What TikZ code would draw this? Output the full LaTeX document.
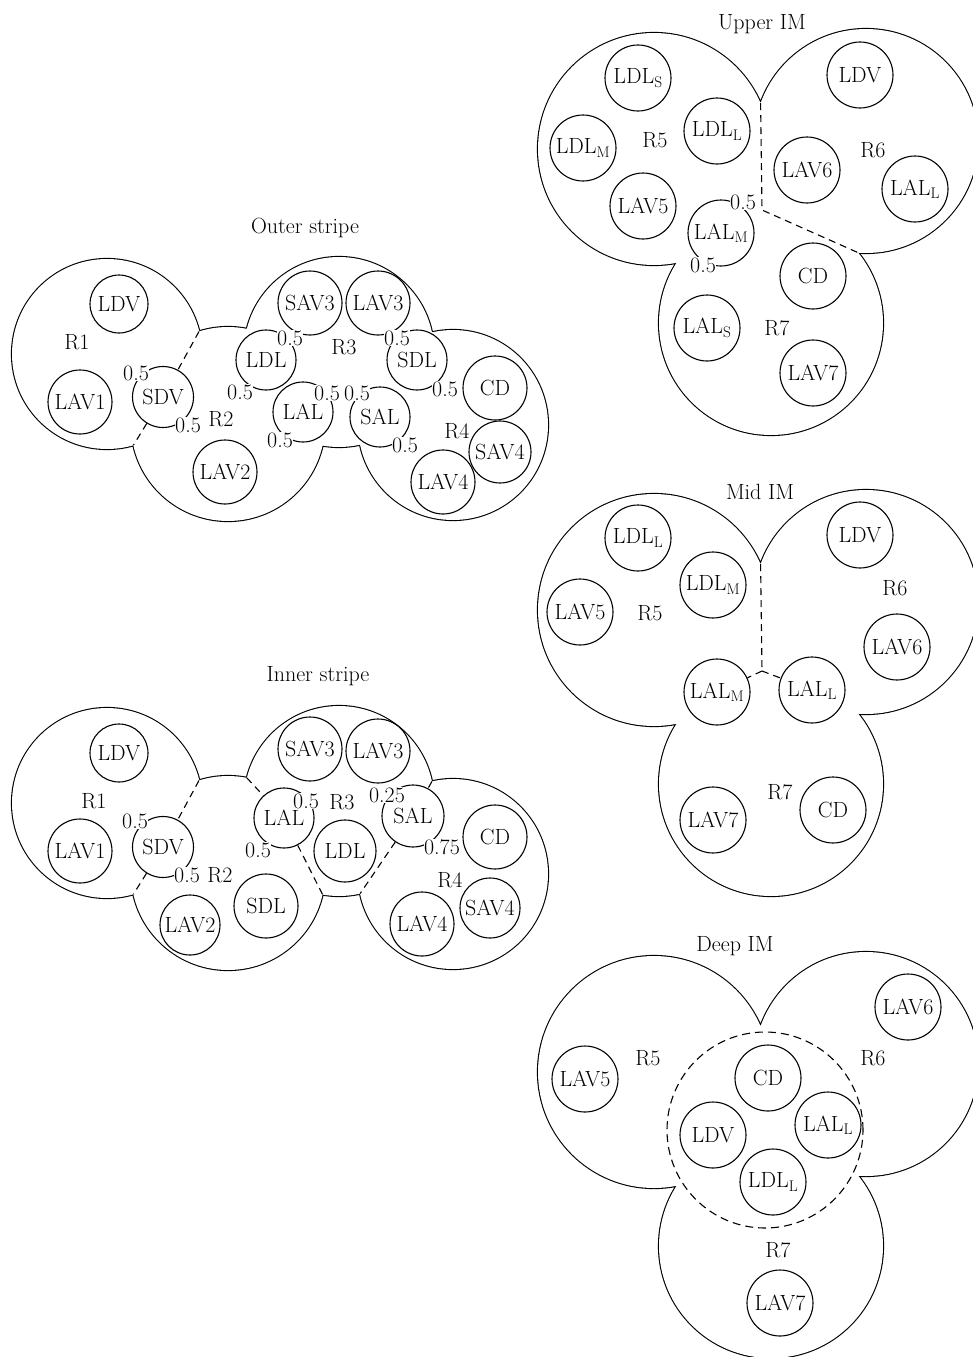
\documentclass[tikz,border=0pt]{standalone}
\usepackage{fontspec}
\newcommand\dfont{\fontsize{22}{26}\selectfont}
\begin{document}
\begin{tikzpicture}[x=1pt,y=-1pt,
  every node/.style={font=\dfont},
  sc/.style={circle,draw,line width=1.1pt,inner sep=0pt,minimum size=66pt},
  lbl/.style={fill=white,inner sep=0.6pt},
  txt/.style={inner sep=0pt},
  ttl/.style={inner sep=0pt,anchor=base},
  dsh/.style={line width=1.1pt,dash pattern=on 7pt off 5pt},
  bigo/.style={line width=2.2pt},
]
\useasboundingbox (0,0) rectangle (973,1357);
\clip (0,0) rectangle (973,1357);

% ================= Outer stripe =================
\draw[bigo] (107,354) circle[radius=95pt] (228,424) circle[radius=97pt]
            (339,352) circle[radius=95pt] (453,425) circle[radius=95pt];
\fill[white] (107,354) circle[radius=95pt] (228,424) circle[radius=97pt]
            (339,352) circle[radius=95pt] (453,425) circle[radius=95pt];
\node[ttl] (ttlo) at (305,233) {Outer stripe};
\node[txt] (or1) at (77,342) {R1};
\node[txt] (or2) at (221,419) {R2};
\node[txt] (or3) at (344,347) {R3};
\node[txt] (or4) at (457,431) {R4};
\node[sc,minimum size=58pt] (oldv) at (119,304) {LDV};
\node[sc,minimum size=64pt] (olav1) at (80,402) {LAV1};
\node[sc,minimum size=61pt] (osdv) at (163,397) {SDV};
\node[sc,minimum size=64pt] (olav2) at (225,472) {LAV2};
\node[sc,minimum size=64pt] (osav3) at (310,303) {SAV3};
\node[sc,minimum size=64pt] (olav3) at (378,303) {LAV3};
\node[sc,minimum size=60pt] (oldl) at (266,360) {LDL};
\node[sc,minimum size=60pt] (olal) at (303,412) {LAL};
\node[sc,minimum size=60pt] (osal) at (380,417) {SAL};
\node[sc,minimum size=60pt] (osdl) at (417,360) {SDL};
\node[sc,minimum size=64pt] (ocd) at (495,388) {CD};
\node[sc,minimum size=62pt] (osav4) at (500,452) {SAV4};
\node[sc,minimum size=64pt] (olav4) at (443,482) {LAV4};
\coordinate (oj12t) at (199,331.5);
\coordinate (oj12b) at (133.4,445.2);
\draw[dsh] (oj12t) -- (osdv);
\draw[dsh] (osdv) -- (oj12b);
\node[lbl] (oa1) at (136,373) {0.5};
\node[lbl] (oa2) at (188,425) {0.5};
\node[lbl] (oa3) at (290,338) {0.5};
\node[lbl] (oa4) at (240,392) {0.5};
\node[lbl] (oa5) at (327,393) {0.5};
\node[lbl] (oa6) at (280,440) {0.5};
\node[lbl] (oa7) at (357,393) {0.5};
\node[lbl] (oa8) at (405,445) {0.5};
\node[lbl] (oa9) at (397,338) {0.5};
\node[lbl] (oa10) at (445,389) {0.5};

% ================= Inner stripe =================
\draw[bigo] (107,803) circle[radius=95pt] (228,873) circle[radius=97pt]
            (339,801) circle[radius=95pt] (453,874) circle[radius=95pt];
\fill[white] (107,803) circle[radius=95pt] (228,873) circle[radius=97pt]
            (339,801) circle[radius=95pt] (453,874) circle[radius=95pt];
\node[ttl] (ttli) at (318,681) {Inner stripe};
\node[txt] (ir1) at (94,801) {R1};
\node[txt] (ir2) at (220,875) {R2};
\node[txt] (ir3) at (342,802) {R3};
\node[txt] (ir4) at (450,880) {R4};
\node[sc,minimum size=58pt] (ildv) at (119,753) {LDV};
\node[sc,minimum size=64pt] (ilav1) at (80,851) {LAV1};
\node[sc,minimum size=61pt] (isdv) at (163,847) {SDV};
\node[sc,minimum size=60pt] (ilav2) at (190,925) {LAV2};
\node[sc,minimum size=64pt] (isdl) at (266,906) {SDL};
\node[sc,minimum size=64pt] (isav3) at (310,749) {SAV3};
\node[sc,minimum size=64pt] (ilav3) at (378,751) {LAV3};
\node[sc,minimum size=60pt] (ilal) at (284,818) {LAL};
\node[sc,minimum size=62pt] (ildl) at (345,851) {LDL};
\node[sc,minimum size=62pt] (isal) at (413,816) {SAL};
\node[sc,minimum size=64pt] (icd) at (495,837) {CD};
\node[sc,minimum size=60pt] (isav4) at (490,908) {SAV4};
\node[sc,minimum size=64pt] (ilav4) at (422,924) {LAV4};
\coordinate (ij12t) at (199,780.5);
\coordinate (ij12b) at (133.4,894.2);
\coordinate (ij23t) at (246.8,777.8);
\coordinate (ij23b) at (322.6,894.6);
\coordinate (ij34t) at (431.9,781.4);
\coordinate (ij34b) at (360.1,893.6);
\draw[dsh] (ij12t) -- (isdv);
\draw[dsh] (isdv) -- (ij12b);
\draw[dsh] (ij23t) -- (ilal);
\draw[dsh] (ilal) -- (ij23b);
\draw[dsh] (ij34t) -- (isal);
\draw[dsh] (isal) -- (ij34b);
\node[lbl] (ia1) at (135,821) {0.5};
\node[lbl] (ia2) at (187,875) {0.5};
\node[lbl] (ia3) at (306,801) {0.5};
\node[lbl] (ia4) at (258,850) {0.5};
\node[lbl] (ia5) at (387,795) {0.25};
\node[lbl,inner sep=0pt] (ia6) at (442,847) {0.75};

% ================= Upper IM =================
\draw[bigo] (654,149) circle[radius=116pt] (866,141) circle[radius=112pt] (771,323) circle[radius=112pt];
\fill[white] (654,149) circle[radius=116pt] (866,141) circle[radius=112pt] (771,323) circle[radius=112pt];
\fill[white] (654,149) -- (866,141) -- (771,323) -- cycle;
\node[ttl] (ttlu) at (762,29) {Upper IM};
\node[txt] (ur5) at (655,140) {R5};
\node[txt] (ur6) at (873,150) {R6};
\node[txt] (ur7) at (777,328) {R7};
\node[sc] (uldls) at (638,78) {LDL\textsubscript{S}};
\node[sc] (uldll) at (717,131) {LDL\textsubscript{L}};
\node[sc] (uldlm) at (583,148) {LDL\textsubscript{M}};
\node[sc] (ulav5) at (643,206) {LAV5};
\node[sc] (ulalm) at (721,233) {LAL\textsubscript{M}};
\node[sc] (uldv) at (860,75) {LDV};
\node[sc] (ulav6) at (807,170) {LAV6};
\node[sc] (ulall) at (915,189) {LAL\textsubscript{L}};
\node[sc] (ucd) at (813,276) {CD};
\node[sc] (ulals) at (707,328) {LAL\textsubscript{S}};
\node[sc] (ulav7) at (813,373) {LAV7};
\coordinate (ucusp) at (760.6,103.2);
\coordinate (umid) at (762,210);
\coordinate (uj67) at (858.2,252.7);
\draw[dsh] (ucusp) -- (umid) -- (uj67);
\node[lbl] (ua1) at (743,202) {0.5};
\node[lbl] (ua2) at (703,265) {0.5};

% ================= Mid IM =================
\draw[bigo] (654,610) circle[radius=116pt] (866,602) circle[radius=112pt] (771,784) circle[radius=112pt];
\fill[white] (654,610) circle[radius=116pt] (866,602) circle[radius=112pt] (771,784) circle[radius=112pt];
\fill[white] (654,610) -- (866,602) -- (771,784) -- cycle;
\node[ttl] (ttlm) at (760,499) {Mid IM};
\node[txt] (mr5) at (650,613) {R5};
\node[txt] (mr6) at (895,588) {R6};
\node[txt] (mr7) at (780,792) {R7};
\node[sc] (mldll) at (638,538) {LDL\textsubscript{L}};
\node[sc] (mldlm) at (713,585) {LDL\textsubscript{M}};
\node[sc] (mlav5) at (580,612) {LAV5};
\node[sc] (mldv) at (860,535) {LDV};
\node[sc] (mlav6) at (897,647) {LAV6};
\node[sc] (mlalm) at (717,692) {LAL\textsubscript{M}};
\node[sc] (mlall) at (812,690) {LAL\textsubscript{L}};
\node[sc] (mlav7) at (713,820) {LAV7};
\node[sc] (mcd) at (833,810) {CD};
\coordinate (mcusp) at (760.6,564.2);
\coordinate (mmid) at (762,671);
\draw[dsh] (mcusp) -- (mmid);
\draw[dsh] (mmid) -- (mlalm);
\draw[dsh] (mmid) -- (mlall);

% ================= Deep IM =================
\draw[bigo] (654,1072) circle[radius=116pt] (866,1064) circle[radius=112pt] (771,1246) circle[radius=112pt];
\fill[white] (654,1072) circle[radius=116pt] (866,1064) circle[radius=112pt] (771,1246) circle[radius=112pt];
\fill[white] (654,1072) -- (866,1064) -- (771,1246) -- cycle;
\node[ttl] (ttld) at (735,951) {Deep IM};
\node[txt] (dr5) at (648,1058) {R5};
\node[txt] (dr6) at (873,1058) {R6};
\node[txt] (dr7) at (778,1250) {R7};
\draw[dsh,dash pattern=on 8pt off 5pt] (765,1130) circle[radius=98pt];
\node[sc] (dlav6) at (908,1007) {LAV6};
\node[sc] (dlav5) at (585,1079) {LAV5};
\node[sc] (dcd) at (768,1078) {CD};
\node[sc] (dldv) at (713,1135) {LDV};
\node[sc] (dlall) at (828,1125) {LAL\textsubscript{L}};
\node[sc] (dldll) at (773,1182) {LDL\textsubscript{L}};
\node[sc] (dlav7) at (780,1303) {LAV7};
\end{tikzpicture}
\end{document}
